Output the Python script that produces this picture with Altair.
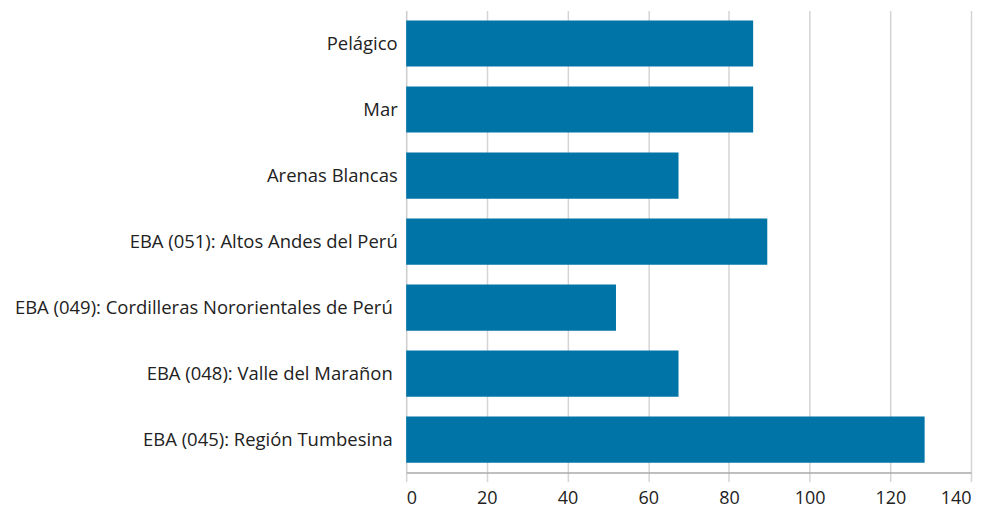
import altair as alt
import pandas as pd

categories = [
    "Pelágico",
    "Mar",
    "Arenas Blancas",
    "EBA (051): Altos Andes del Perú",
    "EBA (049): Cordilleras Nororientales de Perú",
    "EBA (048): Valle del Marañon",
    "EBA (045): Región Tumbesina",
]
values = [86, 86, 67.5, 89.5, 52, 67.5, 128.5]
x_ticks = [0, 20, 40, 60, 80, 100, 120, 140]

df = pd.DataFrame({"category": categories, "value": values})

FONT = "Open Sans"

chart = (
    alt.Chart(df)
    .mark_bar(color="#0074A7")
    .encode(
        x=alt.X(
            "value:Q",
            scale=alt.Scale(domain=[0, 140], nice=False),
            axis=alt.Axis(
                values=x_ticks,
                title=None,
                grid=True,
                gridColor="#d4d4d4",
                gridWidth=1.5,
                domainColor="#aaaaaa",
                domainWidth=1.5,
                tickColor="#d4d4d4",
                tickWidth=1.5,
                tickSize=9,
                labelFont=FONT,
                labelFontSize=18,
                labelColor="#222222",
                labelPadding=8,
            ),
        ),
        y=alt.Y(
            "category:N",
            sort=categories,
            scale=alt.Scale(paddingInner=0.3, paddingOuter=0.15),
            axis=alt.Axis(
                title=None,
                ticks=False,
                domainColor="#cccccc",
                domainWidth=1,
                labelFont=FONT,
                labelFontSize=18.5,
                labelColor="#222222",
                labelPadding={
                    "condition": {
                        "test": "indexof(datum.value, 'EBA (04') == 0",
                        "value": 14,
                    },
                    "value": 9,
                },
                labelLimit=600,
            ),
        ),
    )
    .properties(
        width=566,
        height=463,
        autosize=alt.AutoSizeParams(type="none"),
        padding={"left": 399, "top": 2, "right": 10, "bottom": 37},
    )
    .configure_view(stroke=None)
)

chart.save("out.html", embed_options={"renderer": "svg", "actions": False})
